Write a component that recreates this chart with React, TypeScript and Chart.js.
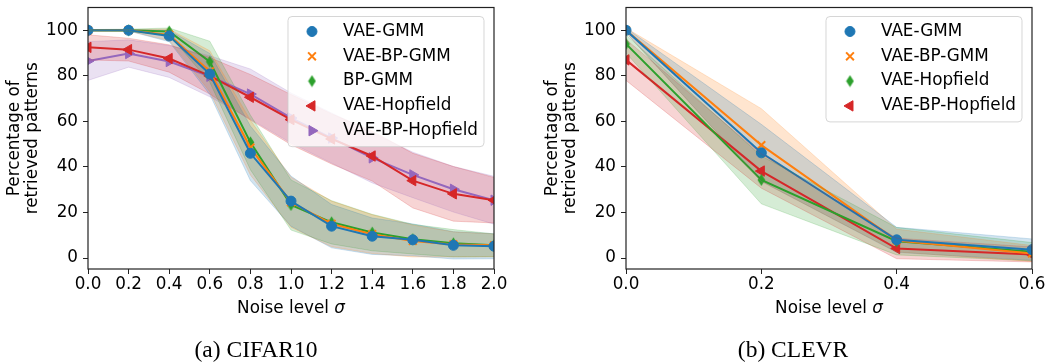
import React, { useEffect, useRef } from 'react';
import { Chart, registerables } from 'chart.js';
import { drawPoint } from 'chart.js/helpers';

Chart.register(...registerables);

// ---------- data ----------
const cifarNoise = [0, 0.2, 0.4, 0.6, 0.8, 1.0, 1.2, 1.4, 1.6, 1.8, 2.0];
const cifarVaeGmm = [100, 100, 97.5, 80.8, 46, 25, 14, 9.6, 8, 5.6, 5.2];
const cifarVaeGmmStd = [0.3, 0.3, 2.5, 9, 12, 11, 9.5, 8, 7, 6, 5.5];
const cifarVaeBpGmm = [100, 100, 98, 82, 48.5, 24.5, 15, 10.5, 7.5, 6, 5.6];
const cifarVaeBpGmmStd = [0.3, 0.3, 2.5, 9, 12, 11, 10, 8.5, 7, 5.5, 5];
const cifarBpGmm = [100, 100, 99.5, 86.2, 50.8, 23.3, 15.7, 11.2, 8.3, 6.5, 5.6];
const cifarBpGmmStd = [0.3, 0.5, 1.5, 9, 12, 11, 9.5, 8, 6.5, 6, 5];
const cifarVaeHop = [92.5, 91.5, 87.6, 80, 70.6, 60.8, 52.3, 44.8, 34, 28.2, 25.4];
const cifarVaeHopStd = [5.5, 5, 6, 8, 10, 11, 11, 11, 12, 12, 10];
const cifarVaeBpHop = [86.5, 89.8, 86.3, 79.8, 72, 61.5, 52.7, 44, 36.5, 30.2, 25.4];
const cifarVaeBpHopStd = [8.5, 6, 7, 9, 11, 11, 11, 11, 10, 10, 10.5];

const clevrNoise = [0, 0.2, 0.4, 0.6];
const clevrVaeGmm = [100, 46.2, 8, 3.7];
const clevrVaeGmmStd = [1, 12.5, 5.5, 4.7];
const clevrVaeBpGmm = [100, 49.6, 7.7, 2];
const clevrVaeBpGmmStd = [1, 16, 5, 3.5];
const clevrVaeHop = [94, 34.3, 7.4, 2.8];
const clevrVaeHopStd = [4, 10.5, 6, 4];
const clevrVaeBpHop = [87, 38.2, 4.2, 1.6];
const clevrVaeBpHopStd = [9, 7.5, 4.5, 3.3];

const cifarXTicks = [0, 0.2, 0.4, 0.6, 0.8, 1.0, 1.2, 1.4, 1.6, 1.8, 2.0];
const clevrXTicks = [0, 0.2, 0.4, 0.6];
const yTicks = [0, 20, 40, 60, 80, 100];

const cifarLabels = ['VAE-GMM', 'VAE-BP-GMM', 'BP-GMM', 'VAE-Hopfield', 'VAE-BP-Hopfield'];
const clevrLabels = ['VAE-GMM', 'VAE-BP-GMM', 'VAE-Hopfield', 'VAE-BP-Hopfield'];

const yTitle = ['Percentage of', 'retrieved patterns'];
const xTitleText = 'Noise level ';
const xTitleSymbol = 'σ';
const cifarCaption = '(a) CIFAR10';
const clevrCaption = '(b) CLEVR';

// ---------- styles ----------
const BLUE = [31, 119, 180];
const ORANGE = [255, 127, 14];
const GREEN = [44, 160, 44];
const RED = [214, 39, 40];
const PURPLE = [148, 103, 189];

const FS = 16.8;

const rgb = (c: number[]) => `rgb(${c[0]},${c[1]},${c[2]})`;
const rgba = (c: number[], a: number) => `rgba(${c[0]},${c[1]},${c[2]},${a})`;

function makeDiamond(c: number[]) {
  const cv = document.createElement('canvas');
  cv.width = 9;
  cv.height = 13;
  const g = cv.getContext('2d')!;
  g.fillStyle = rgb(c);
  g.beginPath();
  g.moveTo(4.5, 0.5);
  g.lineTo(8.3, 6.5);
  g.lineTo(4.5, 12.5);
  g.lineTo(0.7, 6.5);
  g.closePath();
  g.fill();
  return cv;
}

type Marker = 'o' | 'x' | 'd' | '<' | '>';

function markerProps(m: Marker, c: number[]) {
  const col = rgb(c);
  switch (m) {
    case 'o':
      return { pointStyle: 'circle', pointRadius: 5, pointRotation: 0, pointBorderWidth: 1, pointBackgroundColor: col, pointBorderColor: col };
    case 'x':
      return { pointStyle: 'crossRot', pointRadius: 5.5, pointRotation: 0, pointBorderWidth: 2, pointBackgroundColor: col, pointBorderColor: col };
    case 'd':
      return { pointStyle: makeDiamond(c), pointRadius: 6, pointRotation: 0, pointBorderWidth: 0, pointBackgroundColor: col, pointBorderColor: col };
    case '<':
      return { pointStyle: 'triangle', pointRadius: 6, pointRotation: -90, pointBorderWidth: 1, pointBackgroundColor: col, pointBorderColor: col };
    case '>':
    default:
      return { pointStyle: 'triangle', pointRadius: 6, pointRotation: 90, pointBorderWidth: 1, pointBackgroundColor: col, pointBorderColor: col };
  }
}

interface Series {
  label: string;
  mean: number[];
  std: number[];
  color: number[];
  marker: Marker;
}

// ---------- plugins ----------
const TICK_FONT = { family: '"DejaVu Sans"', size: FS };

const framePlugin = {
  id: 'frame',
  afterDatasetsDraw(chart: any) {
    const { ctx, chartArea: a } = chart;
    ctx.save();
    ctx.strokeStyle = '#222';
    ctx.lineWidth = 1.2;
    ctx.strokeRect(a.left, a.top, a.right - a.left, a.bottom - a.top);
    ctx.restore();
  },
};

const boxLegendPlugin = {
  id: 'boxLegend',
  afterDraw(chart: any) {
    const { ctx, chartArea: a } = chart;
    const items = chart.data.datasets.filter((d: any) => d.inLegend);
    ctx.save();
    ctx.font = `${FS}px "DejaVu Sans"`;
    const textW = Math.max(...items.map((d: any) => ctx.measureText(d.label).width));
    const w = 55 + textW + 6;
    const rowH = 24.8;
    const h = 31 + (items.length - 1) * rowH;
    const x0 = a.right - 10 - w;
    const y0 = a.top + 9;
    ctx.beginPath();
    ctx.roundRect(x0, y0, w, h, 4);
    ctx.fillStyle = 'rgba(255,255,255,0.8)';
    ctx.fill();
    ctx.strokeStyle = 'rgba(204,204,204,0.8)';
    ctx.lineWidth = 1;
    ctx.stroke();
    items.forEach((d: any, i: number) => {
      const cy = y0 + 15 + i * rowH;
      ctx.fillStyle = d.pointBackgroundColor;
      ctx.strokeStyle = d.pointBorderColor;
      ctx.lineWidth = d.pointBorderWidth;
      drawPoint(
        ctx,
        { pointStyle: d.pointStyle, rotation: d.pointRotation, radius: d.pointRadius, borderWidth: d.pointBorderWidth },
        x0 + 24,
        cy
      );
      ctx.fillStyle = '#000';
      ctx.textBaseline = 'middle';
      ctx.textAlign = 'left';
      ctx.fillText(d.label, x0 + 55, cy);
    });
    ctx.restore();
  },
};

const textPlugin = {
  id: 'extraText',
  afterDraw(chart: any, _args: any, opts: any) {
    const { ctx, chartArea: a } = chart;
    ctx.save();
    ctx.fillStyle = '#000';
    ctx.textBaseline = 'alphabetic';
    ctx.textAlign = 'left';
    // x axis title with italic sigma
    const f1 = `${FS}px "DejaVu Sans"`;
    const f2 = `italic ${FS}px "DejaVu Sans"`;
    ctx.font = f1;
    const w1 = ctx.measureText(xTitleText).width;
    ctx.font = f2;
    const w2 = ctx.measureText(xTitleSymbol).width;
    const cx = (a.left + a.right) / 2;
    const start = cx - (w1 + w2) / 2;
    const by = a.bottom + 44;
    ctx.font = f1;
    ctx.fillText(xTitleText, start, by);
    ctx.font = f2;
    ctx.fillText(xTitleSymbol, start + w1, by);
    // caption
    ctx.font = '23.5px "Liberation Serif"';
    ctx.textAlign = 'center';
    ctx.fillText(opts.caption, opts.captionX, 357);
    ctx.restore();
  },
};

// ---------- config ----------
function buildConfig(xs: number[], series: Series[], xTicks: number[], xMax: number, caption: string, captionX: number, padRight: number) {
  const bands: any[] = [];
  const lines: any[] = [];
  series.forEach((s) => {
    const up = xs.map((x, i) => ({ x, y: s.mean[i] + s.std[i] }));
    const lo = xs.map((x, i) => ({ x, y: s.mean[i] - s.std[i] }));
    bands.push({
      label: '',
      data: up,
      borderColor: rgba(s.color, 0.2),
      borderWidth: 1,
      pointRadius: 0,
      fill: false,
      tension: 0,
    });
    bands.push({
      label: '',
      data: lo,
      borderColor: rgba(s.color, 0.2),
      backgroundColor: rgba(s.color, 0.2),
      borderWidth: 1,
      pointRadius: 0,
      fill: '-1',
      tension: 0,
    });
    lines.push({
      label: s.label,
      inLegend: true,
      data: xs.map((x, i) => ({ x, y: s.mean[i] })),
      borderColor: rgb(s.color),
      backgroundColor: rgb(s.color),
      borderWidth: 2,
      fill: false,
      tension: 0,
      ...markerProps(s.marker, s.color),
    });
  });

  return {
    type: 'line',
    data: { datasets: [...bands, ...lines] },
    options: {
      animation: false,
      responsive: false,
      devicePixelRatio: 1,
      layout: { padding: { left: 0, top: 5, right: padRight, bottom: 0 } },
      plugins: {
        legend: { display: false },
        tooltip: { enabled: false },
        filler: { drawTime: 'beforeDatasetsDraw' },
        extraText: { caption, captionX },
      },
      scales: {
        x: {
          type: 'linear',
          min: 0,
          max: xMax,
          afterBuildTicks: (scale: any) => {
            scale.ticks = xTicks.map((v) => ({ value: v }));
          },
          afterFit: (scale: any) => {
            scale.height = 93;
            scale.paddingLeft = 0;
            scale.paddingRight = 0;
          },
          border: { display: false },
          grid: { display: true, drawOnChartArea: false, drawTicks: true, tickLength: 5, color: '#222', lineWidth: 1 },
          ticks: {
            font: TICK_FONT,
            color: '#000',
            padding: 1,
            maxRotation: 0,
            autoSkip: false,
            callback: (v: number) => Number(v).toFixed(1),
          },
        },
        y: {
          type: 'linear',
          min: -4.8,
          max: 110,
          afterBuildTicks: (scale: any) => {
            scale.ticks = yTicks.map((v) => ({ value: v }));
          },
          afterFit: (scale: any) => {
            scale.width = 88;
            scale.paddingTop = 0;
            scale.paddingBottom = 0;
          },
          border: { display: false },
          grid: { display: true, drawOnChartArea: false, drawTicks: true, tickLength: 5, color: '#222', lineWidth: 1 },
          ticks: {
            font: TICK_FONT,
            color: '#000',
            padding: 5,
            autoSkip: false,
            callback: (v: number) => String(v),
          },
          title: {
            display: true,
            text: yTitle,
            font: { family: '"DejaVu Sans"', size: FS, lineHeight: 1.05 },
            color: '#000',
            padding: { top: 6, bottom: 0 },
          },
        },
      },
    },
    plugins: [framePlugin, boxLegendPlugin, textPlugin],
  };
}

function Panel(props: { left: number; width: number; makeConfig: () => any }) {
  const ref = useRef<HTMLCanvasElement>(null);
  useEffect(() => {
    if (!ref.current) return;
    const chart = new Chart(ref.current, props.makeConfig());
    return () => chart.destroy();
  }, []);
  return (
    <canvas
      ref={ref}
      width={props.width}
      height={362}
      style={{ position: 'absolute', left: props.left, top: 0, width: props.width, height: 362 }}
    />
  );
}

export default function App() {
  const cifarSeries = (): Series[] => [
    { label: cifarLabels[0], mean: cifarVaeGmm, std: cifarVaeGmmStd, color: BLUE, marker: 'o' },
    { label: cifarLabels[1], mean: cifarVaeBpGmm, std: cifarVaeBpGmmStd, color: ORANGE, marker: 'x' },
    { label: cifarLabels[2], mean: cifarBpGmm, std: cifarBpGmmStd, color: GREEN, marker: 'd' },
    { label: cifarLabels[3], mean: cifarVaeHop, std: cifarVaeHopStd, color: RED, marker: '<' },
    { label: cifarLabels[4], mean: cifarVaeBpHop, std: cifarVaeBpHopStd, color: PURPLE, marker: '>' },
  ];
  const clevrSeries = (): Series[] => [
    { label: clevrLabels[0], mean: clevrVaeGmm, std: clevrVaeGmmStd, color: BLUE, marker: 'o' },
    { label: clevrLabels[1], mean: clevrVaeBpGmm, std: clevrVaeBpGmmStd, color: ORANGE, marker: 'x' },
    { label: clevrLabels[2], mean: clevrVaeHop, std: clevrVaeHopStd, color: GREEN, marker: 'd' },
    { label: clevrLabels[3], mean: clevrVaeBpHop, std: clevrVaeBpHopStd, color: RED, marker: '<' },
  ];
  return (
    <div style={{ position: 'absolute', left: 0, top: 0, width: 1045, height: 362, background: '#fff' }}>
      <Panel
        left={0}
        width={508}
        makeConfig={() => buildConfig(cifarNoise, cifarSeries(), cifarXTicks, 2.0, cifarCaption, 256, 14)}
      />
      <Panel
        left={538}
        width={507}
        makeConfig={() => buildConfig(clevrNoise, clevrSeries(), clevrXTicks, 0.6, clevrCaption, 255, 13)}
      />
    </div>
  );
}
